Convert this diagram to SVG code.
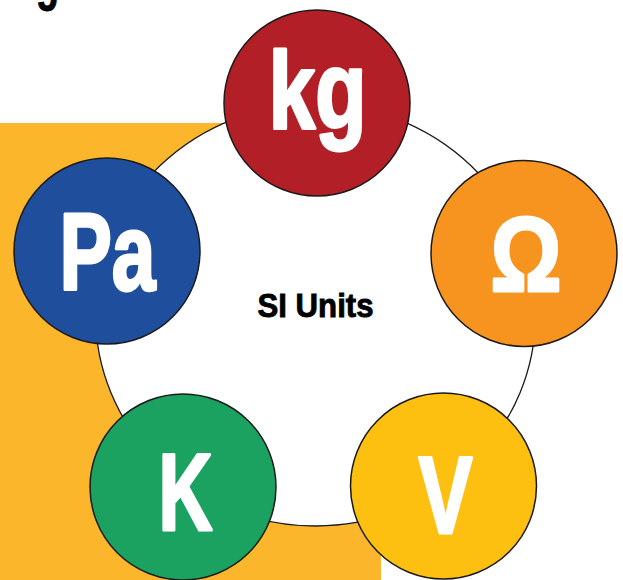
<svg xmlns="http://www.w3.org/2000/svg" width="623" height="580" viewBox="0 0 623 580">
<style>
.node{stroke:#1a1a1a;stroke-width:1.5}
.sym{font-family:"Liberation Sans",Arial,sans-serif;font-weight:bold;fill:#ffffff;stroke:#ffffff;stroke-width:3.2;stroke-linejoin:round;text-anchor:middle}
.big{font-size:110px}
.title{font-family:"Liberation Sans",Arial,sans-serif;font-weight:bold;fill:#000000;stroke:#000000}
</style>
<rect x="0" y="123" width="381" height="457" fill="#FBB62B"/>
<text class="title" x="36" y="-1" font-size="56" stroke-width="1" textLength="23" lengthAdjust="spacingAndGlyphs">g</text>
<g id="center">
<ellipse cx="315.5" cy="315" rx="220" ry="211" fill="#ffffff" stroke="#1a1a1a" stroke-width="1.3"/>
<text class="title" x="315.5" y="316.5" font-size="33.5" stroke-width="0.9" text-anchor="middle" textLength="116" lengthAdjust="spacingAndGlyphs">SI Units</text>
</g>
<g id="connectors"></g>
<g id="node-kg">
<circle class="node" cx="317" cy="103" r="93" fill="#B31F26"/>
<text class="sym big" x="317.5" y="128" textLength="98" lengthAdjust="spacingAndGlyphs">kg</text>
</g>
<g id="node-ohm">
<circle class="node" cx="524" cy="253.5" r="93" fill="#F7941F"/>
<text class="sym" x="526" y="290.5" font-size="105" textLength="71" lengthAdjust="spacingAndGlyphs">Ω</text>
</g>
<g id="node-v">
<circle class="node" cx="443.5" cy="486" r="93" fill="#FDC010"/>
<text class="sym big" x="445.5" y="532.5" textLength="54" lengthAdjust="spacingAndGlyphs">V</text>
</g>
<g id="node-k">
<circle class="node" cx="183" cy="487" r="93" fill="#1BA261"/>
<text class="sym big" x="185.5" y="529.5" textLength="54" lengthAdjust="spacingAndGlyphs">K</text>
</g>
<g id="node-pa">
<circle class="node" cx="107" cy="251" r="93" fill="#1F4F9C"/>
<text class="sym big" x="107.5" y="289.5" textLength="96" lengthAdjust="spacingAndGlyphs">Pa</text>
</g>
</svg>
